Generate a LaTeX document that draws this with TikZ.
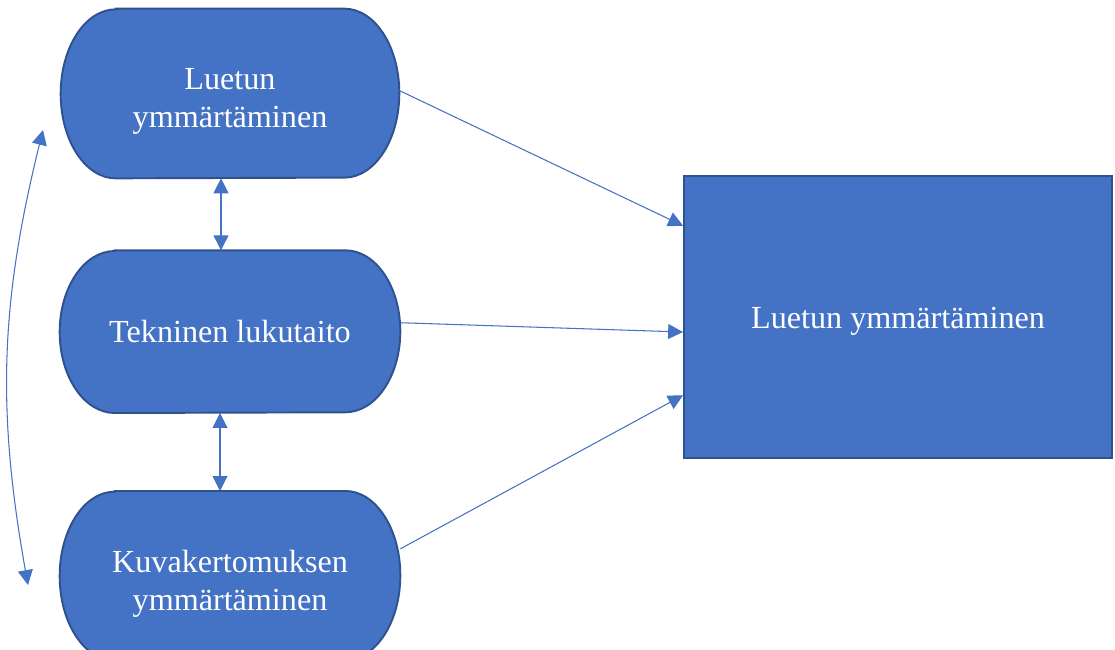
\documentclass[tikz,border=0pt]{standalone}
\usepackage{fontspec}
\setmainfont{Liberation Serif}
\usepackage{tikz}
\usetikzlibrary{positioning,arrows.meta,calc,backgrounds}

\definecolor{officeblue}{HTML}{4472C4}
\definecolor{officeedge}{HTML}{2F528F}
\newcommand{\topgap}[1]{\rule{0pt}{#1}}

\begin{document}
\begin{tikzpicture}[
    x=0.02cm, y=-0.02cm,
    font=\fontsize{18.3}{21.6}\selectfont,
    term/.style={minimum width=6.8cm, minimum height=3.38cm, inner sep=2pt,
                 text=white, align=center},
    termfill/.style={fill=officeblue, draw=officeedge, line width=1.1pt},
    target/.style={draw=officeedge, fill=officeblue, line width=1.1pt,
                   minimum width=8.56cm, minimum height=5.64cm, text=white},
    link/.style={-{Triangle[length=8.5pt, width=8.5pt]}, officeblue, line width=0.6pt},
    both/.style={link, {Triangle[length=8.5pt, width=8.5pt]}-{Triangle[length=8.5pt, width=8.5pt]}},
  ]
  \useasboundingbox (0,0) rectangle (1115,649);

  % left column
  \node[term, minimum width=6.76cm] (lu) at (230,93.5) {\topgap{21.5pt}Luetun\\ymmärtäminen};
  \node[term, minimum height=3.24cm, below=1.44cm of lu] (tek) {Tekninen lukutaito};
  \node[term, below=1.56cm of tek] (kuva) {\topgap{21.5pt}Kuvakertomuksen\\ymmärtäminen};

  % right box
  \node[target] (res) at (898,317) {\topgap{17pt}Luetun ymmärtäminen};

  % stadium outlines behind the texts
  \begin{scope}[on background layer]
    \foreach \n/\ry in {lu/1.69, tek/1.62, kuva/1.69}
      \path[termfill] ($(\n.north west)+(1.1cm,0)$) -- ($(\n.north east)+(-1.1cm,0)$)
        arc[start angle=90, end angle=-90, x radius=1.1cm, y radius=\ry cm]
        -- ($(\n.south west)+(1.1cm,0)$)
        arc[start angle=270, end angle=90, x radius=1.1cm, y radius=\ry cm] -- cycle;
  \end{scope}

  % connectors
  \draw[link] (lu.1) -- (res.157);
  \draw[link] (tek.3) -- (res.184);
  \draw[link] (kuva.9) -- (res.200);
  \draw[both] ([xshift=-0.18cm]lu.south) -- ([xshift=-0.18cm]tek.north);
  \draw[both] ([xshift=-0.2cm]tek.south) -- ([xshift=-0.2cm]kuva.north);

  \coordinate (upper) at (43,130);
  \coordinate (lower) at (28,585);
  \draw[both] (upper) to[bend right=12] (lower);
\end{tikzpicture}
\end{document}
